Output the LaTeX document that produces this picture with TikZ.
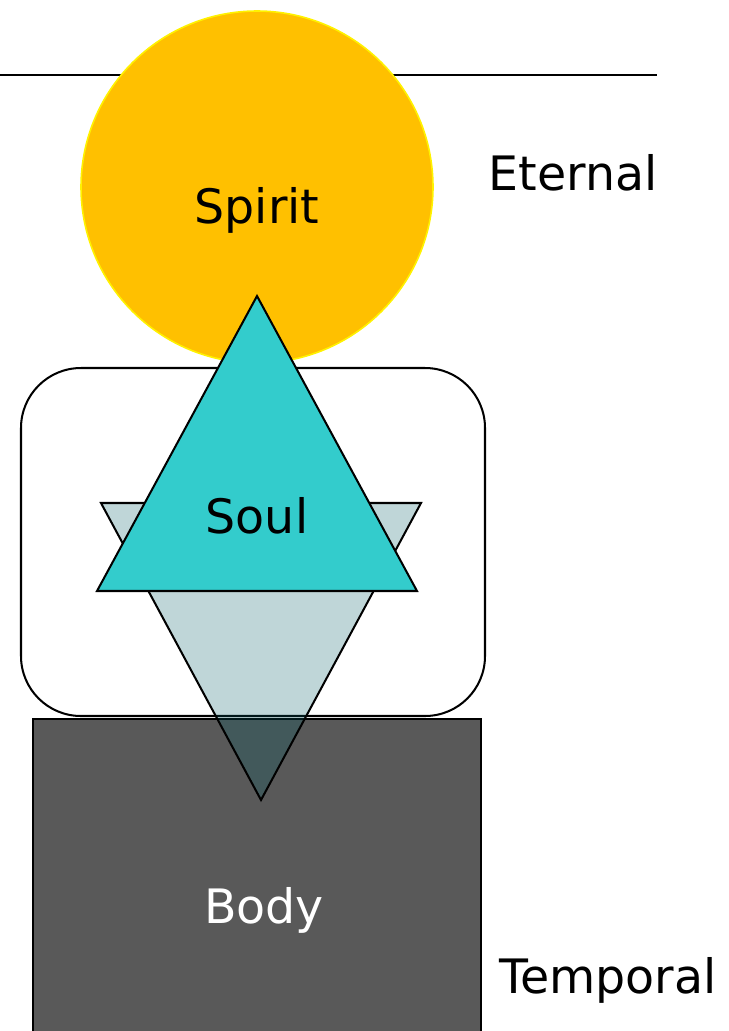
\documentclass[tikz,border=0pt]{standalone}
\usepackage{fontspec}
\setmainfont{DejaVu Sans}
\usepackage{xcolor}
\usetikzlibrary{positioning}
\definecolor{cSpirit}{HTML}{FFC000}
\definecolor{cSoul}  {HTML}{33CCCC}
\definecolor{cBody}  {HTML}{595959}
\definecolor{cMind}  {HTML}{005C64}
\tikzset{
  lbl/.style ={font=\fontsize{27}{32}\selectfont,inner sep=0pt,anchor=base},
  sedge/.style={draw=black,line width=1.15pt,line join=miter},
}
\begin{document}
\begin{tikzpicture}[x=0.02cm,y=-0.02cm]
        \useasboundingbox (0,0) rectangle (729,1031);
        % horizon and spirit
        \draw[line width=1.2pt] (0,75) -- (657,75);
        \fill[cSpirit,draw=yellow,line width=0.9pt] (257,187) circle[radius=176];
        % soul frame and body
        \draw[sedge,fill=white,rounded corners=1.2cm] (21,368) rectangle (485,716);
        \draw[sedge,fill=cBody] (33,719) rectangle (481,1036);
        % two triangles
        \draw[sedge,fill=cMind,fill opacity=0.25] (101,503) -- (421,503) -- (261,800) -- cycle;
        \draw[sedge,fill=cSoul] (257,296) -- (417,591) -- (97,591) -- cycle;
        % labels
        \node[lbl] (spirit) at (257,223) {Spirit};
        \node[lbl] (soul) at (257,533) {Soul};
        \node[lbl,text=white] (body) at (264,923) {Body};
        \node[lbl] (eternal) at (573,190) {Eternal};
        \node[lbl] (temporal) at (608,993) {Temporal};
      \end{tikzpicture}
\end{document}
